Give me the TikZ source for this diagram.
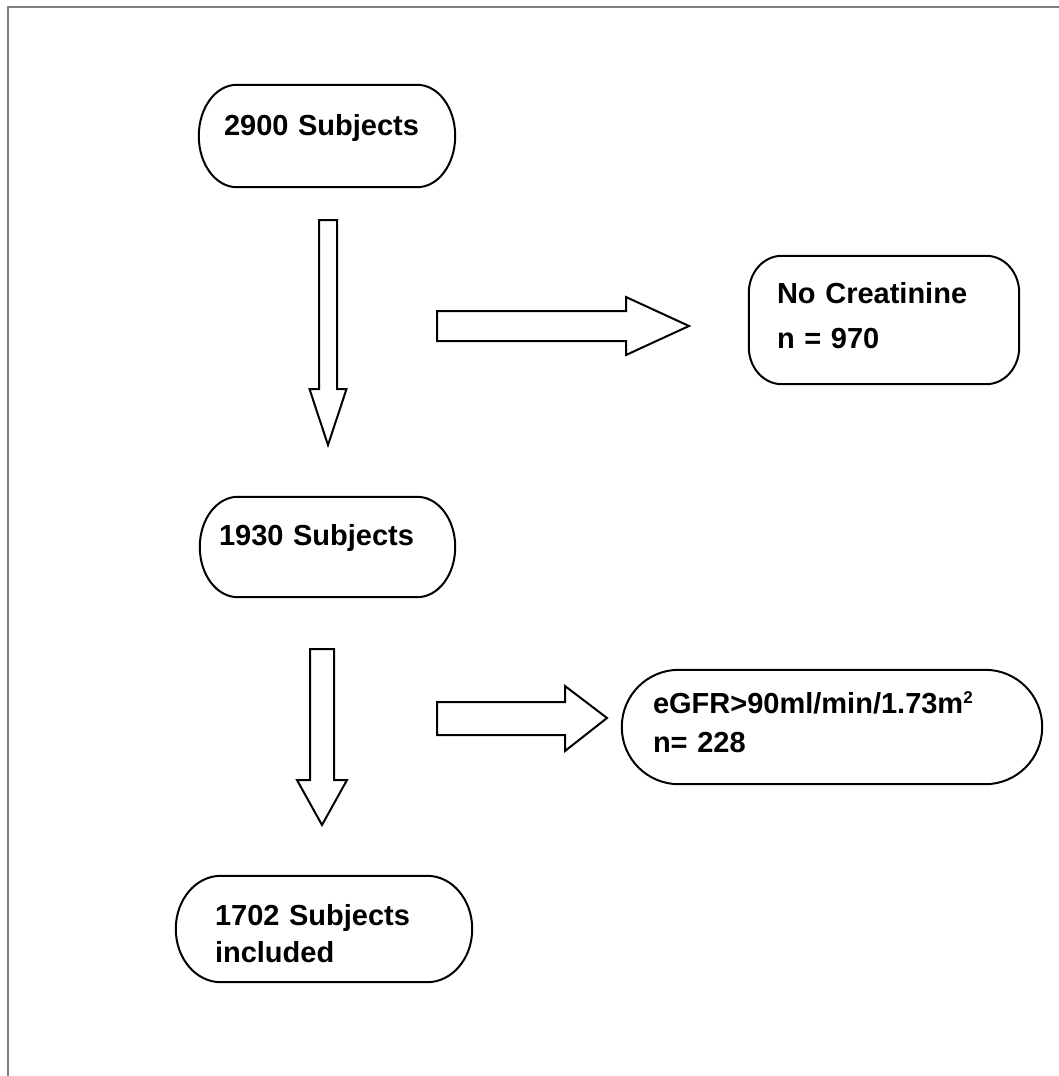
\documentclass[tikz,border=0pt]{standalone}
\usepackage{fontspec}
\setmainfont{Liberation Sans}
\newcommand\termbox[3]{% #1 node name, #2 x radius, #3 y radius (pt)
  \draw[boxline]
    ([xshift=#2pt]#1.north west) -- ([xshift=-#2pt]#1.north east)
    .. controls ([xshift=-0.4477*#2pt]#1.north east) and ([yshift=-0.4477*#3pt]#1.north east) .. ([yshift=-#3pt]#1.north east)
    -- ([yshift=#3pt]#1.south east)
    .. controls ([yshift=0.4477*#3pt]#1.south east) and ([xshift=-0.4477*#2pt]#1.south east) .. ([xshift=-#2pt]#1.south east)
    -- ([xshift=#2pt]#1.south west)
    .. controls ([xshift=0.4477*#2pt]#1.south west) and ([yshift=0.4477*#3pt]#1.south west) .. ([yshift=#3pt]#1.south west)
    -- ([yshift=-#3pt]#1.north west)
    .. controls ([yshift=-0.4477*#3pt]#1.north west) and ([xshift=0.4477*#2pt]#1.north west) .. ([xshift=#2pt]#1.north west)
    -- cycle;}
\begin{document}
\begin{tikzpicture}[x=1pt,y=-1pt,
  framel/.style={draw=black!50, line width=2pt},
  boxline/.style={draw=black, line width=2pt},
  box/.style={inner sep=0pt, align=left,
    font=\bfseries\fontsize{29}{34}\selectfont, text height=22pt},
  barrow/.style={draw, line width=2pt, fill=white, line join=miter}]
\useasboundingbox (0,0) rectangle (1059,1076);
\fill[white] (0,0) rectangle (1059,1076);
\draw[framel] (1060,7) -- (7.5,7) -- (7.5,1077);

\node[box, minimum width=256pt, minimum height=102pt, text width=206pt, text depth=24pt] (s2900) at (327,136) {2900 Subjects};
\node[box, minimum width=270pt, minimum height=128pt, text width=214pt, text depth=56pt,
  font=\bfseries\fontsize{29}{45}\selectfont] (nocr) at (884,320) {No Creatinine\\n = 970};
\node[box, minimum width=255pt, minimum height=100pt, text width=217pt, text depth=26pt] (s1930) at (327.5,547) {1930 Subjects};
\node[box, minimum width=420pt, minimum height=114pt, text width=358pt, text depth=50pt,
  font=\bfseries\fontsize{29}{39}\selectfont] (egfr) at (832,727) {eGFR>90ml/min/1.73m\textsuperscript{\fontsize{17}{17}\selectfont 2}\\n= 228};
\node[box, minimum width=296pt, minimum height=106pt, text width=218pt, text depth=30pt,
  font=\bfseries\fontsize{29}{37}\selectfont] (s1702) at (324,929) {1702 Subjects\\included};

\termbox{s2900}{38}{51}
\termbox{nocr}{33}{37}
\termbox{s1930}{38}{50}
\termbox{egfr}{57}{57}
\termbox{s1702}{45}{53}

% block arrows
\draw[barrow] (319,220) -- (337,220) -- (337,389) -- (346.5,389) -- (328,445) -- (309.5,389) -- (319,389) -- cycle;
\draw[barrow] (437,311) -- (626,311) -- (626,297) -- (689,326) -- (626,355) -- (626,341) -- (437,341) -- cycle;
\draw[barrow] (310,649) -- (334,649) -- (334,780) -- (347,780) -- (322,825) -- (297,780) -- (310,780) -- cycle;
\draw[barrow] (437,702) -- (565,702) -- (565,686) -- (607,718) -- (565,751) -- (565,735) -- (437,735) -- cycle;
\end{tikzpicture}
\end{document}
